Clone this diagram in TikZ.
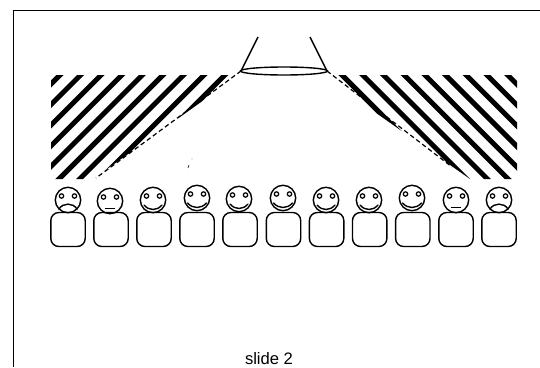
\documentclass[tikz,border=0pt]{standalone}
\usepackage{fontspec}
\setmainfont{Liberation Sans}
\tikzset{
  frameline/.style={line width=1.3pt,black},
  stripe/.style={line width=5pt,black,line cap=butt},
  outline/.style={line width=1.4pt,black},
  beam/.style={line width=1.2pt,black,dash pattern=on 4.5pt off 3pt},
  facepart/.style={line width=1.4pt,black,line cap=round}
}
\begin{document}
\begin{tikzpicture}[x=1pt,y=-1pt]
\useasboundingbox (0,0) rectangle (540,367);
\fill[white] (0,0) rectangle (540,367);
% frame
\draw[frameline] (13.5,367) -- (13.5,10.3) -- (540,10.3);
% left stripes
\begin{scope}
\clip (51,75) -- (239,75) -- (93,179) -- (51,179) -- cycle;
\foreach \k in {-1,0,...,8} \draw[stripe] ({60+20.6*\k+5},70) -- ({60+20.6*\k-109},184);
\end{scope}
% right stripes
\begin{scope}
\clip (517,75) -- (322,75) -- (470,179) -- (517,179) -- cycle;
\foreach \k in {0,1,...,10} \draw[stripe] ({342+20.7*\k-5},70) -- ({342+20.7*\k+109},184);
\end{scope}
% lamp
\draw[outline,fill=white] (284,71) ellipse (43.5 and 4);
\draw[outline] (258,37) -- (241,71);
\draw[outline] (310,37) -- (327,71);
\coordinate (lampL) at (241,71);
\coordinate (lampR) at (327,71);
\coordinate (beamL) at (96,178);
\coordinate (beamR) at (452,167);
\draw[beam] (lampL) -- (beamL);
\draw[beam] (lampR) -- (beamR);
% speck
\draw[line width=0.6pt] (188,168) -- (189,165);
\fill (192,159) circle (0.3);
% people: body x, head x, head y, mood
\foreach \bx/\hx/\hy/\m in {68/68/200/0,111/110/201/1,154/153/200/2,197/197/198/3,240/239/199/2,283.5/283/198/3,326.6/326/200/2,369.7/369/200/2,412.8/412/198/3,456/456/200/1,499/499/200/0}{
  \draw[outline,rounded corners=8pt] (\bx-17.2,212.5) rectangle (\bx+17.2,246.5);
  \draw[outline] (\hx,\hy) circle (12.7);
  \draw[line width=1.2pt] (\hx-6.5,\hy-4) circle (2.2);
  \draw[line width=1.2pt] (\hx+6.5,\hy-4) circle (2.2);
  \ifnum\m=0
    \draw[facepart] (\hx-9,\hy+9) .. controls (\hx-5,\hy+2.5) and (\hx+5,\hy+2.5) .. (\hx+9,\hy+9);
  \fi
  \ifnum\m=1
    \draw[facepart] (\hx-4.5,\hy+7.5) -- (\hx+4.5,\hy+7.5);
  \fi
  \ifnum\m=2
    \draw[facepart] (\hx-9,\hy+5) .. controls (\hx-4,\hy+11) and (\hx+4,\hy+11) .. (\hx+9,\hy+5);
  \fi
  \ifnum\m=3
    \draw[facepart] (\hx-9.5,\hy+5) .. controls (\hx-4,\hy+11) and (\hx+4,\hy+11) .. (\hx+9.5,\hy+5);
  \fi
}
\node[font=\fontsize{16.6pt}{18pt}\selectfont,inner sep=0pt] (caption) at (269,358.5) {slide 2};
\end{tikzpicture}
\end{document}
